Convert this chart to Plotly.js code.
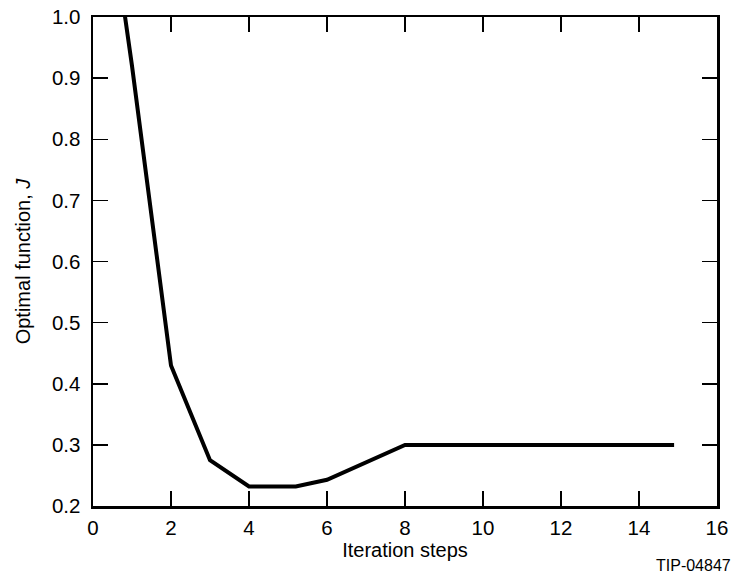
<!DOCTYPE html>
<html>
<head>
<meta charset="utf-8">
<script src="https://cdn.plot.ly/plotly-3.0.1.min.js"></script>
<style>
  html, body { margin: 0; padding: 0; background: #fff; }
  #chart { width: 736px; height: 578px; }
</style>
</head>
<body>
<div id="chart"></div>
<script>
// Convergence of the optimal function J over the iteration steps
const iterationSteps = [0, 1, 2, 3, 4, 5.2, 6, 8, 14.9];
const optimalJ = [1.37, 0.92, 0.43, 0.275, 0.232, 0.232, 0.243, 0.3, 0.3];

const xTicks = [0, 2, 4, 6, 8, 10, 12, 14, 16];
const yTicks = [0.2, 0.3, 0.4, 0.5, 0.6, 0.7, 0.8, 0.9, 1.0];
const yTickText = ['0.2', '0.3', '0.4', '0.5', '0.6', '0.7', '0.8', '0.9', '1.0'];

const font = 'Liberation Sans, Arial, Helvetica, sans-serif';

const trace = {
  x: iterationSteps,
  y: optimalJ,
  mode: 'lines',
  line: { color: '#000', width: 4 },
  hoverinfo: 'skip'
};

const axisCommon = {
  showgrid: false,
  zeroline: false,
  showline: true,
  linecolor: '#000',
  linewidth: 2.5,
  mirror: 'ticks',
  ticks: 'inside',
  ticklen: 15,
  tickwidth: 1.5,
  tickcolor: '#000',
  tickfont: { family: font, size: 20.5, color: '#000' }
};

const layout = {
  width: 736,
  height: 578,
  margin: { l: 93, r: 19, t: 17, b: 72 },
  paper_bgcolor: '#fff',
  plot_bgcolor: '#fff',
  showlegend: false,
  xaxis: Object.assign({}, axisCommon, {
    range: [0, 16],
    tickmode: 'array',
    tickvals: xTicks,
    ticklabelstandoff: 2,
    title: { text: 'Iteration steps', font: { family: font, size: 20, color: '#000' }, standoff: 5 }
  }),
  yaxis: Object.assign({}, axisCommon, {
    range: [0.2, 1.0],
    tickmode: 'array',
    tickvals: yTicks,
    ticktext: yTickText,
    ticklabelstandoff: 6,
    title: { text: 'Optimal function, <i>J</i>', font: { family: font, size: 20, color: '#000' }, standoff: 16 }
  }),
  annotations: [{
    text: 'TIP-04847',
    xref: 'paper', yref: 'paper',
    x: 1.025, y: -0.1,
    xanchor: 'right', yanchor: 'top',
    showarrow: false,
    font: { family: font, size: 16, color: '#000' }
  }]
};

Plotly.newPlot('chart', [trace], layout, { displayModeBar: false, staticPlot: true });
</script>
</body>
</html>
